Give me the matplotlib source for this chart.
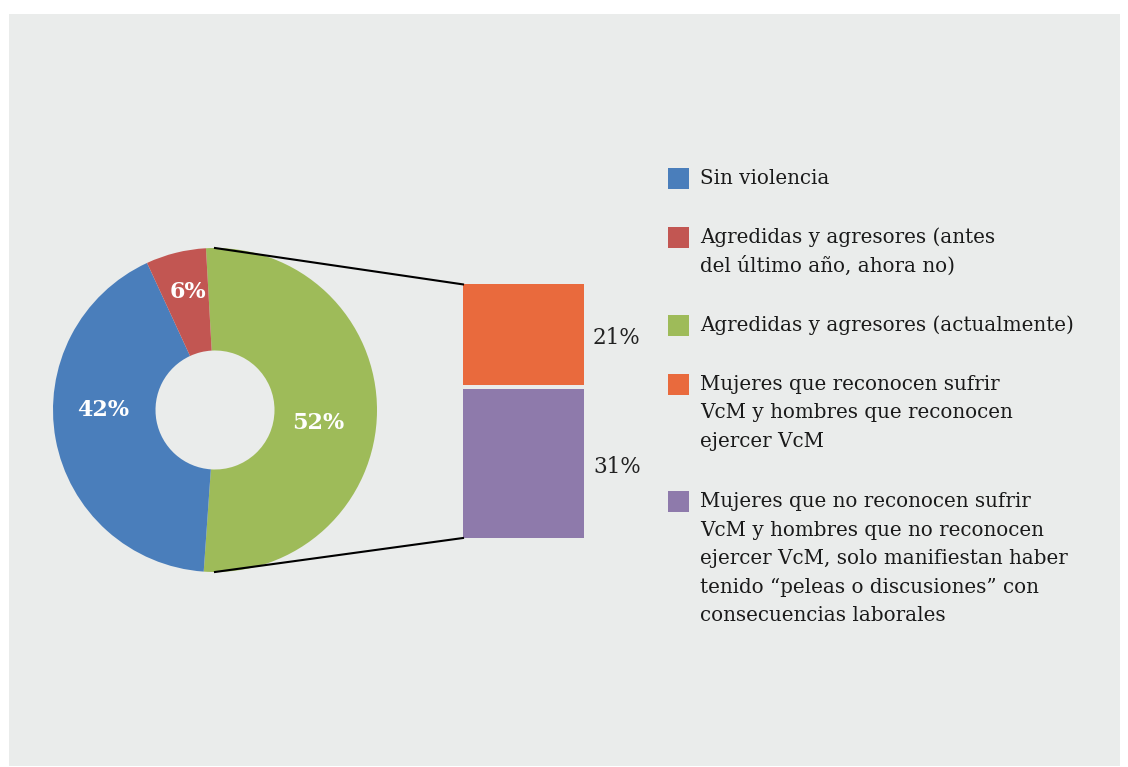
import numpy as np
import matplotlib.pyplot as plt
from matplotlib.patches import Rectangle

plt.rcParams['font.family'] = ['DejaVu Serif']

# donut data (clockwise from the top)
pie_labels = ['Agredidas y agresores (actualmente)', 'Sin violencia',
              'Agredidas y agresores (antes del último año, ahora no)']
pie_values = [52, 42, 6]
pie_colors = ['#9EBB59', '#4A7EBB', '#C25652']

# breakdown of the 52%
bar_values = [31, 21]          # bottom to top
bar_colors = ['#8E7AAB', '#E96A3D']

legend_labels = [
    'Sin violencia',
    'Agredidas y agresores (antes\ndel último año, ahora no)',
    'Agredidas y agresores (actualmente)',
    'Mujeres que reconocen sufrir\nVcM y hombres que reconocen\nejercer VcM',
    'Mujeres que no reconocen sufrir\nVcM y hombres que no reconocen\nejercer VcM, solo manifiestan haber\ntenido \u201cpeleas o discusiones\u201d con\nconsecuencias laborales',
]
legend_colors = ['#4A7EBB', '#C25652', '#9EBB59', '#E96A3D', '#8E7AAB']

W, H = 1128, 767
fig = plt.figure(figsize=(W / 100, H / 100), dpi=100)
fig.patch.set_facecolor('white')
ax = fig.add_axes([0, 0, 1, 1])

# grey panel
ax.add_patch(Rectangle((9, 1), 1111, 752, facecolor='#EAECEB', edgecolor='none', zorder=0))

# donut
cx, cy, r = 215, H - 410, 162
wedges, _, autotexts = ax.pie(
    pie_values, colors=pie_colors, startangle=93.2, counterclock=False,
    center=(cx, cy), radius=r, frame=True,
    autopct=lambda p: f'{p:.0f}%',
    wedgeprops=dict(width=102.5, edgecolor='none'),
    textprops=dict(color='white', fontsize=16, fontweight='bold'))
# label placement (angle in degrees, distance from centre in px)
label_pos = [(-7.2, 104), (180, 112), (102.9, 121)]
for t, (ang, d) in zip(autotexts, label_pos):
    a = np.deg2rad(ang)
    t.set_position((cx + d * np.cos(a), cy + d * np.sin(a)))

ax.set_xlim(0, W)
ax.set_ylim(0, H)
ax.set_aspect('equal')
ax.axis('off')

# stacked bar
scale = 4.8      # px per percent
gap = 4
bx, bw = 463, 121
bottom = H - 538
for v, c in zip(bar_values, bar_colors):
    h = v * scale
    ax.bar(bx, h, width=bw, bottom=bottom, color=c, align='edge', zorder=2)
    ax.text(bx + bw + 9, bottom + h / 2 - 3, f'{v}%', ha='left', va='center',
            fontsize=15.5, color='#222222')
    bottom += h + gap
bar_top = bottom - gap

# connector lines
ax.plot([cx, bx], [cy + r, bar_top], color='black', lw=1.5, zorder=3)
ax.plot([cx, bx], [cy - r, H - 538], color='black', lw=1.5, zorder=3)

# legend
y = H - 178.5
step = 29.4
for lab, col in zip(legend_labels, legend_colors):
    ax.add_patch(Rectangle((668, y - 10.5), 21, 21, facecolor=col, edgecolor='none'))
    lines = lab.split('\n')
    for k, line in enumerate(lines):
        ax.text(700, y - k * 28.5, line, ha='left', va='center',
                fontsize=14.3, color='#1A1A1A')
    y -= (len(lines) + 1) * step

fig.savefig('out.png', dpi=100, facecolor=fig.get_facecolor())
